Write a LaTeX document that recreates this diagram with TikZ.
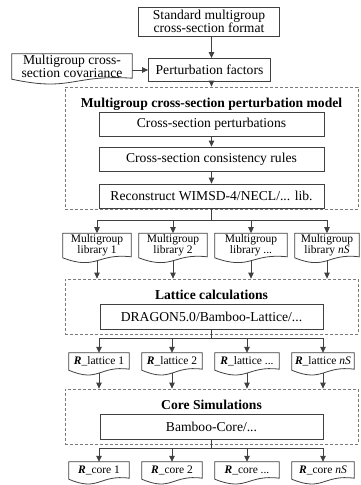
\documentclass[tikz,border=0pt]{standalone}
\usepackage{fontspec}
\setmainfont{Liberation Serif}
\usetikzlibrary{arrows.meta,calc}
\definecolor{lc}{HTML}{404040}
\definecolor{dc}{HTML}{7A7A7A}
\tikzset{
  boxl/.style={draw=lc, line width=0.8pt},
  mfont/.style={font=\fontsize{13.6}{13.2}\selectfont},
  sfont/.style={font=\fontsize{11.5}{10.8}\selectfont},
  pbox/.style={boxl, inner sep=0pt, align=center, mfont},
  doc/.style={inner xsep=0pt, inner ysep=1.5pt, align=center,
    append after command={\pgfextra{\draw[boxl, line join=miter]
      (\tikzlastnode.south west) -- (\tikzlastnode.north west) -- (\tikzlastnode.north east)
      -- ([yshift=1pt]\tikzlastnode.south east)
      .. controls ([yshift=5pt]\tikzlastnode.south) and ([yshift=-13pt]\tikzlastnode.south) ..
      (\tikzlastnode.south west) -- cycle;}}},
  dbox/.style={draw=dc, line width=0.8pt, dash pattern=on 3pt off 2pt, inner sep=0pt},
  ttl/.style={inner sep=0pt, font=\bfseries\fontsize{13.6}{13.6}\selectfont},
  ln/.style={draw=lc, line width=0.8pt},
  arr/.style={ln, -{Triangle[width=5.5pt,length=6pt]}},
}
\newcommand{\Rb}{\textbf{\textit{R}}\_}
\begin{document}
\begin{tikzpicture}[x=1pt,y=1pt]
\useasboundingbox (0,0) rectangle (360,-485);

% top part
\node[pbox, minimum width=141, minimum height=29] (std) at (209,-21.5) {Standard multigroup\\cross-section format};
\node[pbox, minimum width=122, minimum height=23] (pf) at (209.5,-70) {Perturbation factors};
\node[doc, mfont, inner ysep=1pt, minimum width=120, minimum height=25] (cov) at (72,-66.5) {Multigroup cross-\\section covariance};

% dashed container 1
\node[dbox, minimum width=293, minimum height=122] (m1) at (211.5,-148) {};
\node[ttl] (t1) at (211.5,-104) {Multigroup cross-section perturbation model};
\node[pbox, minimum width=225, minimum height=24] (cp) at (211.5,-124) {Cross-section perturbations};
\node[pbox, minimum width=225, minimum height=24] (cr) at (211.5,-159) {Cross-section consistency rules};
\node[pbox, minimum width=225, minimum height=24] (rc) at (211.5,-196) {Reconstruct WIMSD-4/NECL/... lib.};

\draw[arr] (std.south -| t1) -- (pf.north -| t1);
\draw[arr] (cov.east |- pf.west) -- (pf.west);
\draw[arr] (pf.south -| t1) -- (m1.north);
\draw[arr] (cp) -- (cr);
\draw[arr] (cr) -- (rc);

% libraries
\coordinate (b1) at (211.5,-220);
\node[doc, sfont, minimum width=68, minimum height=22] (l1) at (97,-245.5) {Multigroup\\library 1};
\node[doc, sfont, minimum width=68, minimum height=22] (l2) at (173,-245.5) {Multigroup\\library 2};
\node[doc, sfont, minimum width=72, minimum height=22] (l3) at (251,-245.5) {Multigroup\\library ...};
\node[doc, sfont, minimum width=64, minimum height=22] (l4) at (327,-245.5) {Multigroup\\library \textit{nS}};

\draw[ln] (rc.south) -- (b1);
\draw[ln] (b1 -| l1) -- (b1 -| l4);
\foreach \n in {l1,l2,l3,l4} {\draw[arr] (b1 -| \n) -- (\n.north);}

% dashed container 2
\node[dbox, minimum width=293, minimum height=55] (m2) at (211.5,-306.5) {};
\node[ttl] (t2) at (211.5,-295) {Lattice calculations};
\node[pbox, minimum width=223, minimum height=25] (dr) at (211.5,-317) {DRAGON5.0/Bamboo-Lattice/...};
\foreach \n in {l1,l2,l3,l4} {\draw[arr] ([yshift=-3pt]\n.south) -- (\n.south |- m2.north);}

% lattice results
\coordinate (b2) at (211.5,-338);
\node[doc, sfont, minimum width=60, minimum height=17] (r1) at (99,-361.5) {\Rb lattice 1};
\node[doc, sfont, minimum width=60, minimum height=17] (r2) at (172,-361.5) {\Rb lattice 2};
\node[doc, sfont, minimum width=64, minimum height=17] (r3) at (247,-361.5) {\Rb lattice ...};
\node[doc, sfont, minimum width=62, minimum height=17] (r4) at (323,-361.5) {\Rb lattice \textit{nS}};
\draw[ln] (dr.south) -- (b2);
\draw[ln] (b2 -| r1) -- (b2 -| r4);
\foreach \n in {r1,r2,r3,r4} {\draw[arr] (b2 -| \n) -- (\n.north);}

% dashed container 3
\node[dbox, minimum width=293, minimum height=55] (m3) at (211.5,-416.5) {};
\node[ttl] (t3) at (211.5,-405) {Core Simulations};
\node[pbox, minimum width=223, minimum height=25] (bc) at (211.5,-427) {Bamboo-Core/...};
\foreach \n in {r1,r2,r3,r4} {\draw[arr] ([yshift=-3pt]\n.south) -- (\n.south |- m3.north);}

% core results
\coordinate (b3) at (211.5,-448);
\node[doc, sfont, minimum width=60, minimum height=17] (c1) at (99,-470.5) {\Rb core 1};
\node[doc, sfont, minimum width=60, minimum height=17] (c2) at (172,-470.5) {\Rb core 2};
\node[doc, sfont, minimum width=64, minimum height=17] (c3) at (247,-470.5) {\Rb core ...};
\node[doc, sfont, minimum width=62, minimum height=17] (c4) at (323,-470.5) {\Rb core \textit{nS}};
\draw[ln] (bc.south) -- (b3);
\draw[ln] (b3 -| c1) -- (b3 -| c4);
\foreach \n in {c1,c2,c3,c4} {\draw[arr] (b3 -| \n) -- (\n.north);}
\end{tikzpicture}
\end{document}
